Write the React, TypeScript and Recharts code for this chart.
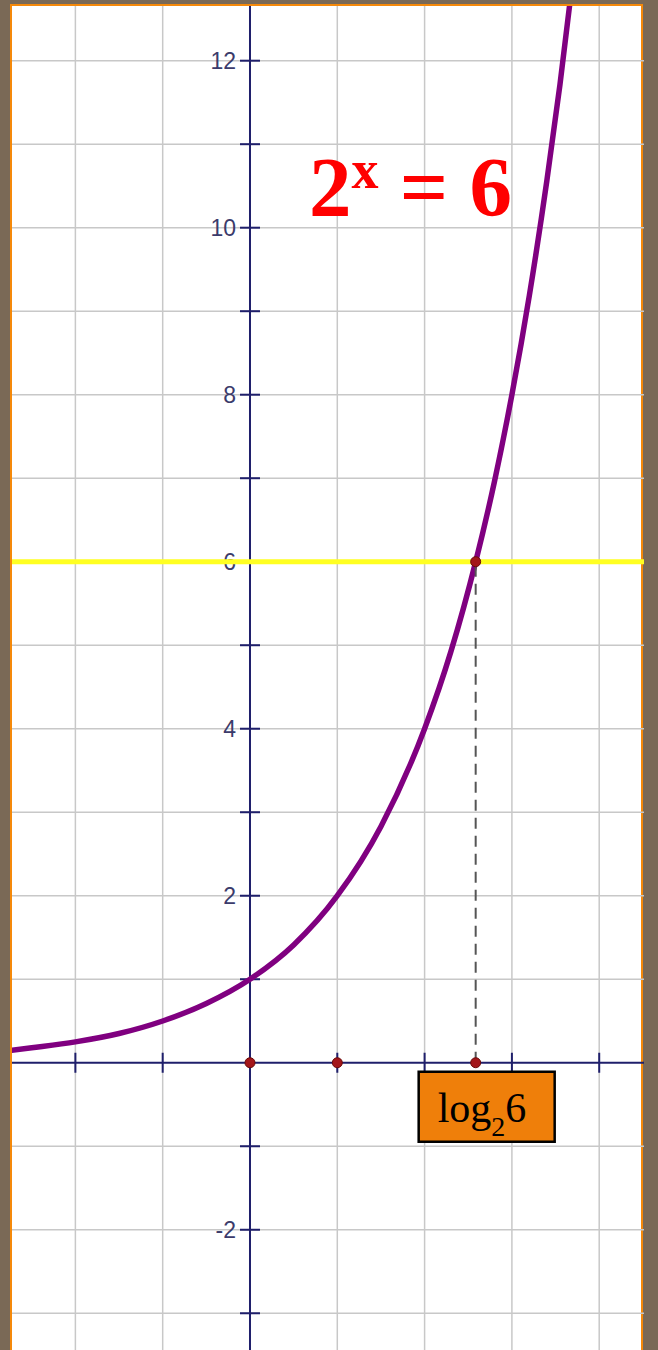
import { ComposedChart, Line, Scatter, XAxis, YAxis, ReferenceLine, ReferenceDot } from 'recharts';

// visible window of the plane
const xDomain = [-2.726, 4.513];
const yDomain = [-3.44, 12.655];

const gridX = [-2, -1, 1, 2, 3, 4];
const gridY = [-3, -2, -1, 1, 2, 3, 4, 5, 6, 7, 8, 9, 10, 11, 12];

// y = 2^x
const curveX = [-2.73, -2.5, -2, -1.5, -1, -0.5, 0, 0.5, 1, 1.5, 2, 2.3, 2.585, 2.8, 3, 3.2, 3.4, 3.55, 3.7];
const curveY = [0.15, 0.18, 0.25, 0.35, 0.5, 0.71, 1, 1.41, 2, 2.83, 4, 4.92, 6, 6.96, 8, 9.19, 10.56, 11.71, 13];

const yTickValues = [-3, -2, -1, 1, 2, 3, 4, 5, 6, 7, 8, 9, 10, 11, 12];
const yTickLabels = [12, 10, 8, 6, 4, 2, -2];
const xTickValues = [-2, -1, 1, 2, 3, 4];

const level = 6;
const solution = 2.585;
const markedX = [0, 1, solution, solution];
const markedY = [0, 0, 0, level];

const curveData = curveX.map((x, i) => ({ x, y: curveY[i] }));
const yTickData = yTickValues.map(v => ({ x: 0, y: v }));
const xTickData = xTickValues.map(v => ({ x: v, y: 0 }));

const AXIS = '#1f1f6b';
const GRID = '#c8c8c8';

function YTick(props: any) {
  const { cx, cy, payload } = props;
  const showLabel = yTickLabels.includes(payload.y);
  return (
    <g>
      <line x1={cx - 10} x2={cx + 10} y1={cy} y2={cy} stroke={AXIS} strokeWidth={2} />
      {showLabel && (
        <text x={cx - 14} y={cy} dy={8} textAnchor="end" fontFamily="Liberation Sans, Arial, sans-serif" fontSize={23} fill="#3b3b6b">
          {payload.y}
        </text>
      )}
    </g>
  );
}

function XTick(props: any) {
  const { cx, cy } = props;
  return <line x1={cx} x2={cx} y1={cy - 10} y2={cy + 10} stroke={AXIS} strokeWidth={2} />;
}

function LogLabel(props: any) {
  const { cx, cy } = props;
  return (
    <g>
      <rect x={cx - 57} y={cy + 9} width={136} height={70} fill="#ef7f0a" stroke="#000" strokeWidth={2.5} />
      <text x={cx - 38} y={cy + 59} fontFamily="Liberation Serif, Times New Roman, serif" fontSize={42} fill="#000">
        log<tspan fontSize={28} dy={14}>2</tspan><tspan dy={-14}>6</tspan>
      </text>
    </g>
  );
}

export default function App() {
  return (
    <div style={{ position: 'absolute', left: 0, top: 0, width: 658, height: 1350, background: '#7a6956', overflow: 'hidden' }}>
      <div style={{ position: 'absolute', left: 10, top: 4, width: 633, height: 1350, background: '#fff', border: '2px solid #f5890a', boxSizing: 'border-box' }} />
      <div style={{ position: 'absolute', left: 0, top: 0 }}>
        <ComposedChart width={658} height={1350} margin={{ top: 6, right: 14, bottom: 0, left: 12 }}>
          <XAxis type="number" dataKey="x" domain={xDomain} allowDataOverflow height={0} axisLine={false} tickLine={false} tick={false} />
          <YAxis type="number" dataKey="y" domain={yDomain} allowDataOverflow width={0} axisLine={false} tickLine={false} tick={false} />
          {gridX.map(v => (
            <ReferenceLine key={'gx' + v} x={v} stroke={GRID} strokeWidth={1.5} />
          ))}
          {gridY.map(v => (
            <ReferenceLine key={'gy' + v} y={v} stroke={GRID} strokeWidth={1.5} />
          ))}
          <ReferenceLine x={0} stroke={AXIS} strokeWidth={2} />
          <ReferenceLine y={0} stroke={AXIS} strokeWidth={2} />
          <Scatter data={yTickData} shape={YTick} isAnimationActive={false} />
          <Scatter data={xTickData} shape={XTick} isAnimationActive={false} />
          <ReferenceLine y={level} stroke="#ffff22" strokeWidth={5} zIndex={650} />
          <Line data={curveData} dataKey="y" type="monotone" stroke="#800080" strokeWidth={5.5} dot={false} isAnimationActive={false} zIndex={660} />
          <ReferenceLine segment={[{ x: solution, y: 0 }, { x: solution, y: level }]} stroke="#555" strokeWidth={2} strokeDasharray="11 7" zIndex={670} />
          {markedX.map((x, i) => (
            <ReferenceDot key={i} x={x} y={markedY[i]} r={5} fill="#a3161a" stroke="#6b0a0a" strokeWidth={1} zIndex={680} />
          ))}
          <ReferenceDot x={solution} y={0} r={0} shape={LogLabel} zIndex={690} />
        </ComposedChart>
      </div>
      <svg width={658} height={300} style={{ position: 'absolute', left: 0, top: 0 }}>
        <text x={309} y={216} fontFamily="Liberation Serif, Times New Roman, serif" fontWeight="bold" fontSize={85} fill="#ff0000">
          2<tspan fontSize={54} dy={-28}>x</tspan><tspan dy={28}> = 6</tspan>
        </text>
      </svg>
    </div>
  );
}
